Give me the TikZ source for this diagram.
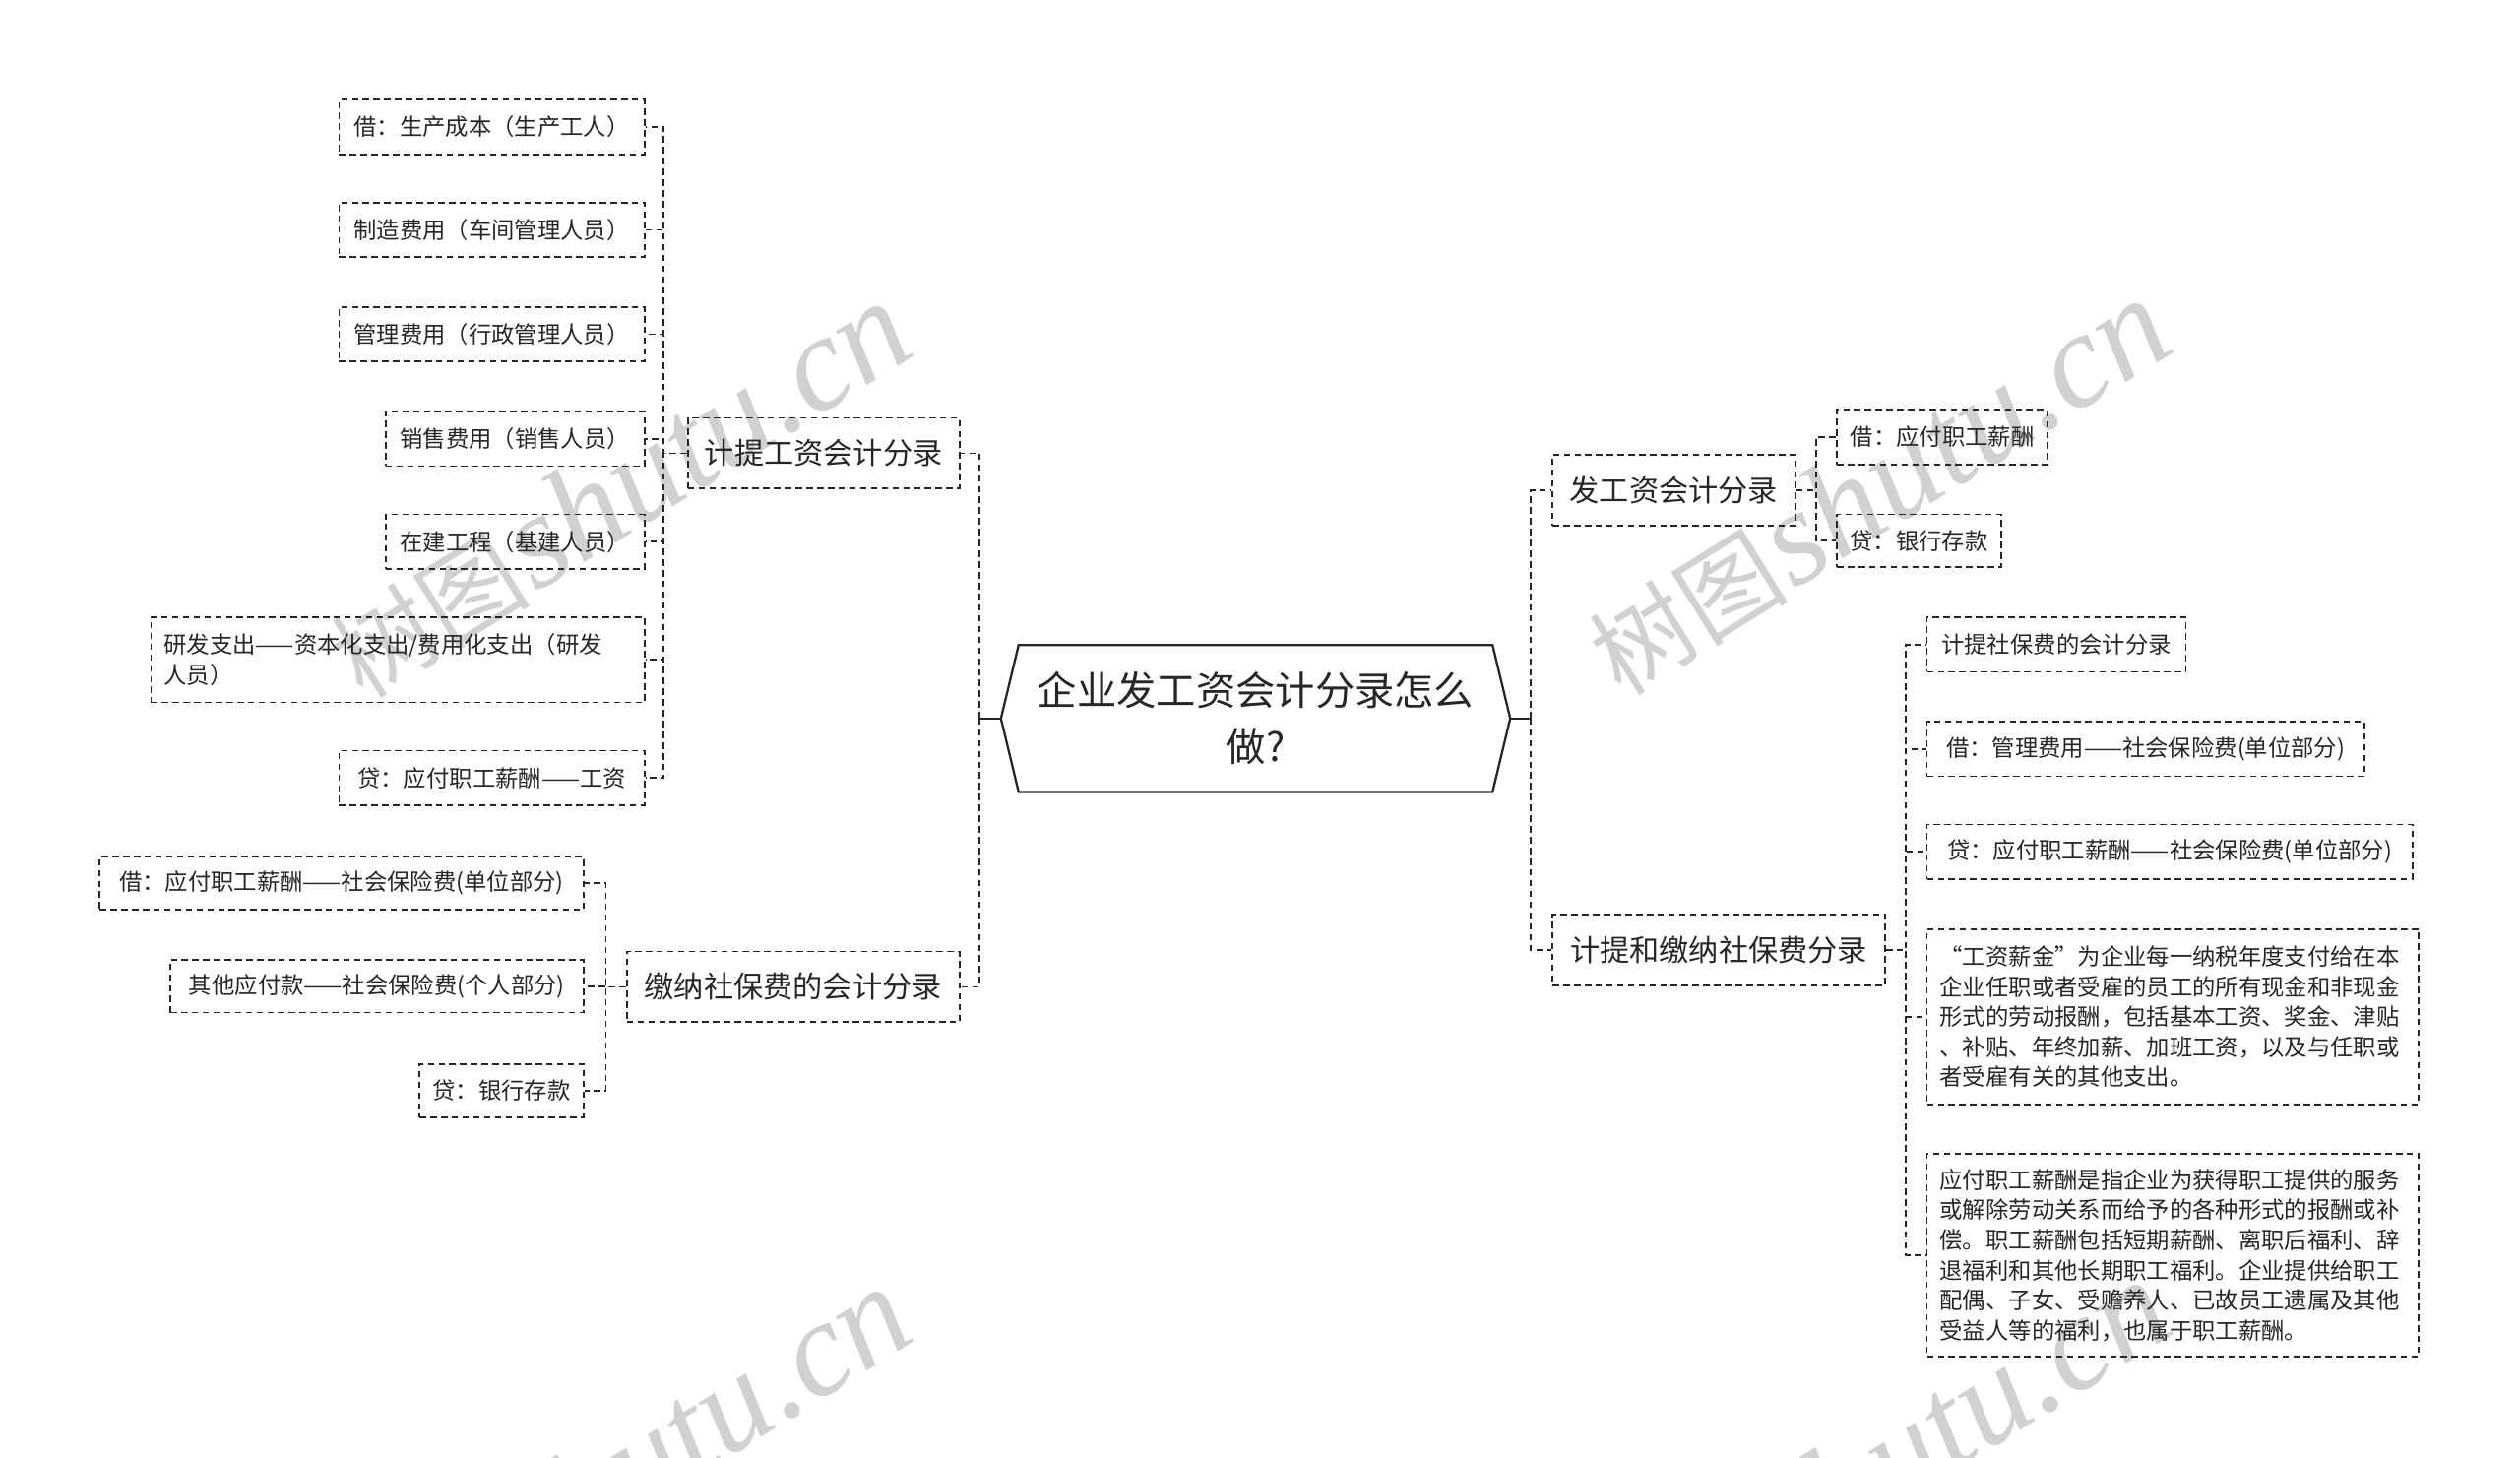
\documentclass[tikz,border=0pt]{standalone}
\usepackage{fontspec}
\setmainfont{Noto Sans CJK SC}
\newfontfamily\wmlatin{Liberation Serif}
\usetikzlibrary{calc}
\newcommand\mkbox[7]{\node[#2, minimum width={#5pt-#3pt}, minimum height={#6pt-#4pt}] (#1) at ({(#3+#5)/2},{(#4+#6)/2}) {#7};}
\newcommand\wmtext{{\fontsize{62}{62}\selectfont 树图} {\wmlatin\itshape\fontsize{84}{84}\selectfont shutu.cn}}
\tikzset{
  box/.style={draw=black!85, line width=1.1pt, dash pattern=on 4pt off 2.7pt, inner sep=0pt, text=black!85},
  conn/.style={draw=black!85, line width=1.1pt, dash pattern=on 4pt off 2.7pt},
  stub/.style={draw=black!85, line width=1.3pt},
  leaf/.style={box, font=\fontsize{14.3}{18.7}\selectfont},
  lvone/.style={box, font=\fontsize{18.5}{24}\selectfont},
  wm/.style={text=black!18, anchor=base west, rotate=32, inner sep=0pt},
}
\begin{document}
\begin{tikzpicture}[x=1pt,y=-1pt]
\fill[white] (0,0) rectangle (1568,907);
\useasboundingbox (0,0) rectangle (1568,907);
% watermarks
\node[wm] (w1) at (226,436) {\wmtext};
\node[wm] (w2) at (1009,434) {\wmtext};
\node[wm] (w3) at (226,1049) {\wmtext};
\node[wm] (w4) at (1009,1045) {\wmtext};

% root
\node[minimum width=316.5pt, minimum height=91pt, inner sep=0pt, align=center, text=black!85,
      font=\fontsize{24.7}{35}\selectfont] (root) at (781.25,447) {企业发工资会计分录怎么\\做?};
\draw[black!85, line width=1.4pt] (root.west) -- ([xshift=11pt]root.north west) -- ([xshift=-11pt]root.north east)
  -- (root.east) -- ([xshift=-11pt]root.south east) -- ([xshift=11pt]root.south west) -- cycle;

% left level one
\mkbox{a}{lvone}{428}{260}{597}{304}{计提工资会计分录}
\mkbox{b}{lvone}{390}{592}{597}{636}{缴纳社保费的会计分录}
% A children
\mkbox{a1}{leaf}{211}{62}{401}{96}{借：生产成本（生产工人）}
\mkbox{a2}{leaf}{211}{126}{401}{160}{制造费用（车间管理人员）}
\mkbox{a3}{leaf}{211}{191}{401}{225}{管理费用（行政管理人员）}
\mkbox{a4}{leaf}{240}{256}{401}{290}{销售费用（销售人员）}
\mkbox{a5}{leaf}{240}{320}{401}{354}{在建工程（基建人员）}
\node[leaf, align=left, text width=291pt, inner xsep=8pt, minimum height=53pt] (a6) at (247.5,410.5)
  {研发支出——资本化支出/费用化支出（研发\\人员）};
\mkbox{a7}{leaf}{211}{467}{401}{501}{贷：应付职工薪酬——工资}
% B children
\mkbox{b1}{leaf}{62}{533}{363}{566}{借：应付职工薪酬——社会保险费(单位部分)}
\mkbox{b2}{leaf}{106}{597}{363}{630}{其他应付款——社会保险费(个人部分)}
\mkbox{b3}{leaf}{261}{662}{363}{695}{贷：银行存款}

% right level one
\mkbox{c}{lvone}{966}{283}{1117}{327}{发工资会计分录}
\mkbox{d}{lvone}{966}{569}{1173}{613}{计提和缴纳社保费分录}
\mkbox{c1}{leaf}{1143}{255}{1274}{289}{借：应付职工薪酬}
\mkbox{c2}{leaf}{1143}{320}{1245}{353}{贷：银行存款}
\mkbox{d1}{leaf}{1199}{384}{1360}{418}{计提社保费的会计分录}
\mkbox{d2}{leaf}{1199}{449}{1471}{483}{借：管理费用——社会保险费(单位部分)}
\mkbox{d3}{leaf}{1199}{513}{1501}{547}{贷：应付职工薪酬——社会保险费(单位部分)}
\node[leaf, align=left, text width=290pt, inner xsep=8pt, minimum height=109pt] (d4) at (1352,632.5)
  {“工资薪金”为企业每一纳税年度支付给在本\\企业任职或者受雇的员工的所有现金和非现金\\形式的劳动报酬，包括基本工资、奖金、津贴\\、补贴、年终加薪、加班工资，以及与任职或\\者受雇有关的其他支出。};
\node[leaf, align=left, text width=290pt, inner xsep=8pt, minimum height=126pt] (d5) at (1352,781)
  {应付职工薪酬是指企业为获得职工提供的服务\\或解除劳动关系而给予的各种形式的报酬或补\\偿。职工薪酬包括短期薪酬、离职后福利、辞\\退福利和其他长期职工福利。企业提供给职工\\配偶、子女、受赡养人、已故员工遗属及其他\\受益人等的福利，也属于职工薪酬。};

% trunk coordinates
\coordinate (tl) at (609.5,447);
\coordinate (tr) at (952.5,447);
\coordinate (ta) at (413,0);
\coordinate (tb) at (377,0);
\coordinate (tc) at (1130,0);
\coordinate (td) at (1186,0);

% root connectors
\draw[stub] (root.west) -- (tl);
\draw[stub] (root.east) -- (tr);
\foreach \n in {a,b} \draw[conn] (tl) |- (\n.east);
\foreach \n in {c,d} \draw[conn] (tr) |- (\n.west);
% level two connectors
\foreach \n in {a1,a2,a3,a4,a5,a6,a7} \draw[conn] (a.west) -- (a.west -| ta) |- (\n.east);
\foreach \n in {b1,b2,b3} \draw[conn] (b.west) -- (b.west -| tb) |- (\n.east);
\foreach \n in {c1,c2} \draw[conn] (c.east) -- (c.east -| tc) |- (\n.west);
\foreach \n in {d1,d2,d3,d4,d5} \draw[conn] (d.east) -- (d.east -| td) |- (\n.west);
\end{tikzpicture}
\end{document}
